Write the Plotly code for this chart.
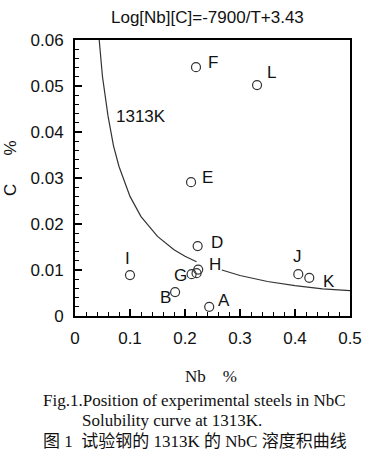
import plotly.graph_objects as go

# --- data ---
steel_nb = [0.244, 0.182, 0.223, 0.211, 0.220, 0.212, 0.221, 0.224, 0.100, 0.406, 0.426, 0.331]
steel_c = [0.0020, 0.0052, 0.0152, 0.0291, 0.0541, 0.0091, 0.0093, 0.0101, 0.0089, 0.0091, 0.0083, 0.0502]

curve_nb = [0.044, 0.05, 0.06, 0.07, 0.08, 0.10, 0.12, 0.15, 0.18, 0.20, 0.221, None,
            0.267, 0.30, 0.35, 0.40, 0.45, 0.50]
curve_c = [0.0600, 0.0520, 0.0435, 0.0370, 0.0325, 0.0260, 0.0216, 0.0173, 0.0144, 0.0130, 0.0118, None,
           0.0100, 0.0088, 0.0075, 0.0066, 0.0059, 0.0055]

label_text = ["F", "L", "E", "D", "H", "G", "B", "A", "I", "J", "K", "1313K"]
label_nb = [0.251, 0.358, 0.240, 0.258, 0.255, 0.192, 0.164, 0.270, 0.095, 0.404, 0.461, 0.120]
label_c = [0.0552, 0.0530, 0.0302, 0.0159, 0.0113, 0.0088, 0.0041, 0.0033, 0.0126, 0.0129, 0.0075, 0.0433]

x_ticks = [0, 0.1, 0.2, 0.3, 0.4, 0.5]
x_tick_text = ["0", "0.1", "0.2", "0.3", "0.4", "0.5"]
y_ticks = [0, 0.01, 0.02, 0.03, 0.04, 0.05, 0.06]
y_tick_text = ["0", "0.01", "0.02", "0.03", "0.04", "0.05", "0.06"]

title_text = "Log[Nb][C]=-7900/T+3.43"
x_title = "Nb &nbsp;&nbsp; %"
y_title = "C &nbsp;&nbsp;&nbsp;&nbsp; %"
caption_lines = ["Fig.1.Position of experimental steels in NbC",
                 "Solubility curve at 1313K.",
                 "图 1  试验钢的 1313K 的 NbC 溶度积曲线"]

# --- layout geometry (pixels) ---
W, H = 372, 460
L, R, T, B = 75, 22, 40, 144
PW, PH = W - L - R, H - T - B


def px_x(X):
    return (X - L) / PW


def px_y(Y):
    return (H - B - Y) / PH


SANS = "Liberation Sans, Arial, sans-serif"
SERIF = "Liberation Serif, Times New Roman, Noto Sans CJK SC, serif"
INK = "#111111"

fig = go.Figure()
fig.add_trace(go.Scatter(x=curve_nb, y=curve_c, mode="lines",
                         line=dict(color="#333333", width=1.2),
                         connectgaps=False, hoverinfo="skip"))
fig.add_trace(go.Scatter(x=steel_nb, y=steel_c, mode="markers",
                         marker=dict(symbol="circle-open", size=9,
                                     color="#333333", line=dict(width=1.2))))

annotations = []
for t, x, y in zip(label_text, label_nb, label_c):
    annotations.append(dict(x=x, y=y, xref="x", yref="y", text=t, showarrow=False,
                            xanchor="center", yanchor="middle",
                            font=dict(family=SANS, size=17, color=INK)))


def paper_text(X, Y, text, family, size, angle=0):
    return dict(x=px_x(X), y=px_y(Y), xref="paper", yref="paper", text=text,
                showarrow=False, xanchor="center", yanchor="middle", textangle=angle,
                font=dict(family=family, size=size, color=INK))


annotations.append(paper_text(207, 17, title_text, SANS, 17))
annotations.append(paper_text(10, 168, y_title, SANS, 17, angle=-90))
annotations.append(paper_text(211, 376, x_title, SERIF, 17))
annotations.append(paper_text(194, 400, caption_lines[0], SERIF, 17))
annotations.append(paper_text(172, 420, caption_lines[1], SERIF, 17))
annotations.append(paper_text(195, 441, caption_lines[2], SERIF, 17))

axis_common = dict(showline=True, mirror=True, linecolor="black", linewidth=2,
                   showgrid=False, zeroline=False, ticks="inside", ticklen=7,
                   tickwidth=1.5, tickcolor="black", automargin=False,
                   tickfont=dict(family=SANS, size=17, color=INK))

fig.update_layout(
    width=W, height=H,
    margin=dict(l=L, r=R, t=T, b=B),
    paper_bgcolor="white", plot_bgcolor="white",
    showlegend=False,
    annotations=annotations,
    xaxis=dict(range=[0, 0.5], tickvals=x_ticks, ticktext=x_tick_text,
               minor=dict(ticks="inside", ticklen=4, dtick=0.02, tickcolor="black", tickwidth=1),
               ticklabelstandoff=6, **axis_common),
    yaxis=dict(range=[0, 0.06], tickvals=y_ticks, ticktext=y_tick_text,
               minor=dict(ticks="inside", ticklen=4, dtick=0.002, tickcolor="black", tickwidth=1),
               ticklabelstandoff=6, **axis_common),
)

fig.write_html("out.html", config={"displayModeBar": False},
               post_script="document.body.style.margin='0';document.body.style.overflow='hidden';")
